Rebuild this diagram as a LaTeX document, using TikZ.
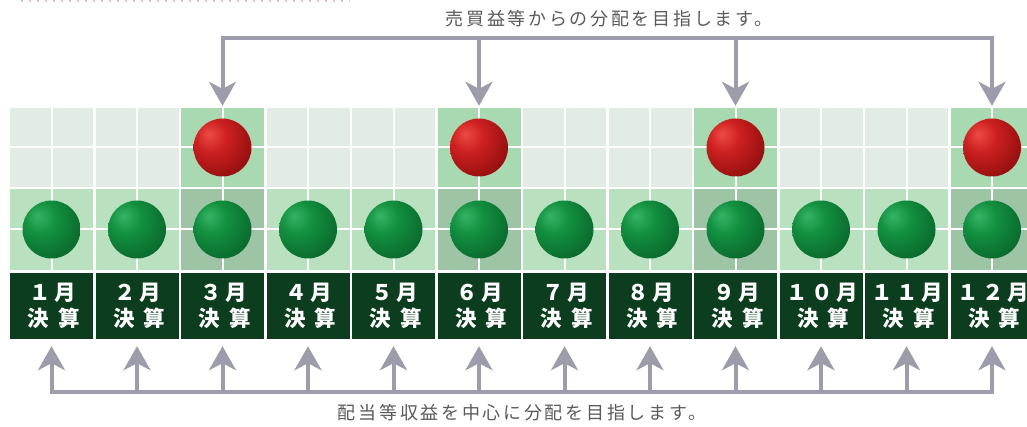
\documentclass[tikz,border=0pt]{standalone}
\usepackage{fontspec}
\newfontfamily\jp[LetterSpace=15]{Noto Sans CJK JP}
\newfontfamily\jpm[LetterSpace=16]{Noto Sans CJK JP}
\newfontfamily\jpk[LetterSpace=42]{Noto Sans CJK JP}
\usetikzlibrary{arrows.meta}
\definecolor{cellpale}{HTML}{E2ECE4}
\definecolor{cellhl}{HTML}{A9D9B1}
\definecolor{greencell}{HTML}{B9E1BF}
\definecolor{greenhl}{HTML}{9DC5A5}
\definecolor{boxgreen}{HTML}{0C3D1E}
\definecolor{arrowgray}{HTML}{9C9CAA}
\definecolor{txtgray}{HTML}{5A5A5A}
\definecolor{rbA}{HTML}{EE4A44}
\definecolor{rbB}{HTML}{CC2020}
\definecolor{rbC}{HTML}{900E0E}
\definecolor{rbD}{HTML}{300303}
\definecolor{gbA}{HTML}{36B466}
\definecolor{gbB}{HTML}{12903F}
\definecolor{gbC}{HTML}{0A662C}
\definecolor{gbD}{HTML}{032510}
\pgfdeclareradialshading{redball}{\pgfpoint{-12bp}{12bp}}{color(0bp)=(rbA); color(14bp)=(rbB); color(36bp)=(rbC); color(60bp)=(rbD); color(80bp)=(rbD)}
\pgfdeclareradialshading{greenball}{\pgfpoint{-12bp}{12bp}}{color(0bp)=(gbA); color(14bp)=(gbB); color(36bp)=(gbC); color(60bp)=(gbD); color(80bp)=(gbD)}
\tikzset{
  topcell/.style={rectangle, inner sep=0pt, minimum width=83pt, minimum height=79pt},
  grncell/.style={rectangle, inner sep=0pt, minimum width=83pt, minimum height=81pt},
  mbox/.style={rectangle, inner sep=0pt, minimum width=83pt, minimum height=66pt, fill=boxgreen, text=white, align=center, font=\fontsize{21.5pt}{26pt}\selectfont\bfseries},
  gridline/.style={white, line width=2pt},
  conn/.style={draw=arrowgray, line width=4pt},
  tip/.style={-{Stealth[length=24pt, width=27pt, inset=7pt]}},
  redb/.style={circle, inner sep=0pt, minimum size=58pt, shading=redball},
  greenb/.style={circle, inner sep=0pt, minimum size=58pt, shading=greenball},
  label/.style={text=txtgray, inner sep=0pt, font=\fontsize{18pt}{20pt}\selectfont\jp}
}
\begin{document}
\begin{tikzpicture}[x=1pt, y=-1pt]
\useasboundingbox (0,0) rectangle (1027,427);
% faint dotted rule at the top
\draw[gray!45, line width=2pt, dash pattern=on 2pt off 14pt] (21,1) -- (350,1);
\draw[red!25, line width=2pt, dash pattern=on 2pt off 14pt] (29,1) -- (350,1);
% cells
\foreach \i in {1,...,12} {
  \pgfmathsetmacro\cx{51.5+85.5*(\i-1)}
  \node[topcell, fill=cellpale] (t\i) at (\cx,147.5) {};
  \node[grncell, fill=greencell] (g\i) at (\cx,229.5) {};
}
\foreach \i in {3,6,9,12} {
  \node[topcell, fill=cellhl] at (t\i) {};
  \node[grncell, fill=greenhl] at (g\i) {};
}
\foreach \i in {1,...,12} {
  \draw[gridline] (t\i.north) -- (g\i.south);
  \draw[gridline] (t\i.west) -- (t\i.east);
  \draw[gridline] (g\i.west) -- (g\i.east);
}
% balls
\foreach \i in {1,...,12} {
  \node[greenb] (gb\i) at (g\i.center) {};
}
\foreach \i in {3,6,9,12} {
  \node[redb] (rb\i) at (t\i.center) {};
}
% month boxes
\foreach \i/\n in {1/１,2/２,3/３,4/４,5/５,6/６,7/７,8/８,9/９,10/１０,11/１１,12/１２} {
  \node[mbox] (m\i) at (51.5+85.5*\i-85.5,306) {\jpm\hspace*{1.7pt}\n 月\\\jpk\hspace*{4.5pt}決算};
}
% top connector
\coordinate (topline) at (0,38);
\draw[conn, line cap=rect] (t3.north |- topline) -- (t12.north |- topline);
\foreach \i in {3,6,9,12} {
  \draw[conn, tip, shorten >=2pt] (t\i.north |- topline) -- (t\i.north);
}
\node[label] (toptext) at (609,19) {売買益等からの分配を目指します。};
% bottom connector
\coordinate (botline) at (0,392);
\draw[conn, line cap=rect] (m1.south |- botline) -- (m12.south |- botline);
\foreach \i in {1,...,12} {
  \draw[conn, tip, shorten >=7pt] (m\i.south |- botline) -- (m\i.south);
}
\node[label] (bottext) at (522,413) {配当等収益を中心に分配を目指します。};
\end{tikzpicture}
\end{document}
